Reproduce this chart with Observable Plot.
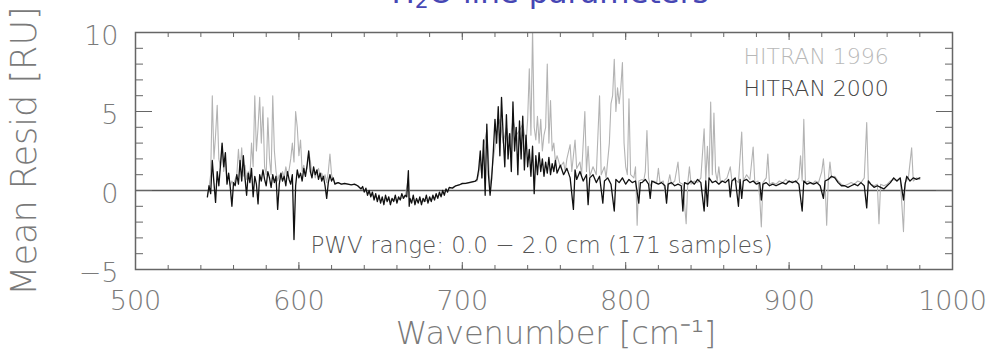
<!DOCTYPE html>
<html>
<head>
<meta charset="utf-8">
<script src="https://cdn.jsdelivr.net/npm/d3@7"></script>
<script src="https://cdn.jsdelivr.net/npm/@observablehq/plot@0.6"></script>
<style>
  html, body { margin: 0; padding: 0; background: #fff; overflow: hidden; }
  #wrap { position: relative; width: 987px; height: 356px; overflow: hidden; }
  #title { position: absolute; left: 0; width: 1100px; text-align: center; top: -23px;
    font: 31px/30px "DejaVu Sans", sans-serif; font-weight: 400; color: #4646b4; white-space: nowrap; }
  #title sub { font-size: 22px; vertical-align: -5px; line-height: 0; }
  svg text { font-family: "DejaVu Sans", sans-serif; font-weight: 200; }
</style>
</head>
<body>
<div id="wrap"><div id="title">H<sub>2</sub>O line parameters</div><div id="chart"></div></div>
<script>
const seriesNames = ["HITRAN 1996", "HITRAN 2000"];
const xTicks = [500, 600, 700, 800, 900, 1000];
const yTicks = [-5, 0, 5, 10];
const xMinorTicks = d3.range(500, 1001, 20);
const yMinorTicks = d3.range(-5, 11, 1);
const xLabel = "Wavenumber [cm\u207B\u00B9]";
const yLabel = "Mean Resid [RU]";
const annotation = "PWV range: 0.0 \u2212 2.0 cm (171 samples)";

// HITRAN 1996 (grey) [wavenumber cm-1, mean residual RU]
const hitran1996 = [
[544,-0.3],[545,0.2],[546,1.0],[547,6.0],[548,2.0],[549,3.5],[550,5.4],[551,2.0],[552,1.5],[553,2.8],[554,1.2],[555,2.0],[556,0.6],[557,1.0],[558,0.3],[559,0.6],[560,0.4],[562,1.0],[563,2.6],[564,1.2],[565,2.7],[566,0.9],[567,1.6],[568,0.7],[569,1.2],[570,0.8],[571,3.0],[572,1.5],[573,6.0],[574,2.5],[575,4.0],[576,5.9],[577,3.0],[578,5.3],[579,1.5],[580,1.0],[581,4.6],[582,2.0],[583,1.0],[584,6.0],[585,2.5],[586,1.2],[587,0.6],[588,1.0],[589,0.7],[590,1.2],[591,0.8],[592,1.5],[593,1.0],[594,1.3],[595,2.0],[596,3.0],[597,1.8],[598,5.0],[599,4.0],[600,2.2],[601,3.2],[602,1.2],[603,1.6],[604,1.0],[605,1.4],[606,2.4],[607,1.9],[608,1.0],[609,1.3],[610,0.8],[611,1.2],[612,1.4],[613,0.9],[614,1.1],[615,0.7],[616,1.0],[617,0.5],[618,1.2],[619,2.3],[620,1.0],[621,0.7],[622,0.5],[624,0.5],[626,0.4],
[630,0.4],[635,0.35],[640,0.0],[645,-0.3],[650,-0.6],[655,-0.6],[660,-0.6],[665,-0.4],[667,0.8],[668,-0.6],[672,-0.6],[676,-0.7],[680,-0.6],[684,-0.4],[688,-0.2],[692,0.1],[696,0.3],[700,0.4],[705,0.5],[709,0.6],
[710,1.0],[711,2.0],[712,0.8],[713,2.8],[715,3.8],[717,0.2],[719,2.0],[721,3.5],[723,4.5],[725,3.0],[727,4.0],[729,3.0],[731,4.5],[733,3.5],[735,3.8],[737,4.2],[739,3.0],[740,4.5],[741,7.7],[742,3.5],[743,10.2],[744,4.0],[745,3.2],[746,4.7],[747,3.0],[748,4.5],[749,2.5],[750,3.5],[751,4.0],[752,8.0],[753,3.0],[754,5.7],[755,2.5],[756,3.0],[757,1.8],[758,2.2],[760,1.5],[762,1.8],[763,1.2],[764,2.0],[766,2.9],[767,1.2],[769,3.2],[770,1.4],[772,1.8],[773,1.0],[775,5.0],[776,1.2],[777,2.8],[778,0.9],[780,1.5],[782,1.0],[784,6.0],[785,1.0],[787,1.5],[788,0.8],[790,3.0],[791,5.5],[792,6.0],[793,8.3],[794,5.0],[795,6.5],[796,5.5],[797,6.5],[798,8.1],[799,3.0],[800,1.5],[801,1.0],[802,5.8],[803,1.0],[805,0.8],[806,1.5],[807,-2.2],[808,0.6],[810,0.7],
[811,0.6],[812,1.2],[813,3.8],[814,0.8],[815,0.3],[817,0.6],[819,0.5],[820,1.4],[821,0.5],[823,0.6],[825,-0.6],[826,0.5],[827,1.0],[828,0.4],[830,0.6],[832,1.8],[833,0.5],[835,0.4],[837,-2.1],[838,0.5],[839,1.5],[840,0.4],[842,0.6],[844,0.5],[846,0.8],[848,3.9],[849,0.6],[850,2.8],[851,0.8],[852,5.6],[853,1.0],[854,4.9],[855,1.2],[856,0.6],[857,1.5],[858,0.5],[860,0.6],[862,0.8],[864,1.5],[865,0.6],[867,0.7],[869,0.5],[871,3.7],[872,0.6],[874,1.0],[876,0.7],[878,2.75],[879,0.5],[881,0.6],[882,-0.4],[883,-2.3],[884,0.5],[886,0.8],[887,2.3],[888,0.4],[890,0.5],[892,0.4],[894,0.6],[896,0.5],[898,0.7],[900,0.5],[902,0.6],[904,0.5],[906,0.8],[907,2.2],[908,0.6],[909,4.5],[910,0.5],[912,0.6],[914,0.4],[916,0.6],[918,0.5],[920,1.2],[921,2.0],[922,0.6],[923,-2.2],[924,0.7],[925,1.8],[926,0.8],[928,0.9],[930,0.6],[932,0.4],[934,0.3],[936,0.4],[938,0.5],[940,0.4],[942,0.6],[944,0.5],[946,0.8],[947.5,4.3],[948.5,0.5],[950,0.4],[952,0.3],[954,0.4],[955,-2.1],[956,0.4],[958,0.3],[960,0.4],[962,0.6],[964,0.7],[966,0.6],[968,0.8],[970,-2.6],[971,0.5],[973,0.8],[975,2.7],[976,0.6],[978,0.8],[980,0.7]
];

// HITRAN 2000 (black) [wavenumber cm-1, mean residual RU]
const hitran2000 = [
[544,-0.4],[545,0.3],[546,-0.2],[547,1.9],[548,0.5],[549,-0.75],[550,1.2],[551,0.3],[552,1.6],[553,3.0],[554,1.5],[555,2.4],[556,0.4],[557,1.1],[558,0.2],[559,-1.0],[560,0.5],[561,0.3],[562,1.0],[563,0.4],[564,1.9],[565,0.6],[566,2.2],[567,0.8],[568,-0.3],[569,1.1],[570,0.5],[571,1.4],[572,-0.4],[573,0.9],[574,0.4],[575,-0.85],[576,1.0],[577,0.6],[578,1.3],[579,0.7],[580,0.3],[581,1.2],[582,0.8],[583,0.2],[584,1.0],[585,0.5],[586,0.9],[587,-1.2],[588,0.4],[589,1.1],[590,0.6],[591,0.9],[592,0.3],[593,1.2],[594,0.7],[595,0.4],[596,1.0],[597,-3.1],[598,0.3],[599,1.3],[600,0.8],[601,1.1],[602,0.6],[603,1.4],[604,0.9],[605,1.6],[606,2.5],[607,1.2],[608,0.8],[609,1.5],[610,1.0],[611,1.3],[612,0.7],[613,1.1],[614,0.6],[615,0.9],[616,0.3],[617,-0.5],[618,0.5],[619,1.0],[620,0.6],[621,0.8],[622,0.4],[624,0.5],[626,0.4],
[628,0.45],[630,0.4],[632,0.35],[634,0.4],[636,0.3],[638,0.1],[639,0.25],[640,-0.1],[641,0.15],[642,-0.3],[643,0.0],[644,-0.4],[645,-0.1],[646,-0.6],[647,-0.2],[648,-0.7],[649,-0.3],[650,-0.8],[651,-0.4],[652,-0.9],[653,-0.3],[654,-0.7],[655,-0.4],[656,-0.9],[657,-0.5],[658,-0.7],[659,-0.3],[660,-0.8],[661,-0.4],[662,-0.6],[663,-0.2],[664,-0.5],[665,-0.3],[666,-0.4],[667,1.25],[667.5,-1.0],[668,-0.5],[669,-0.8],[670,-0.3],[671,-0.9],[672,-0.5],[673,-0.8],[674,-0.4],[675,-0.9],[676,-0.5],[677,-0.7],[678,-0.3],[679,-0.8],[680,-0.4],[681,-0.7],[682,-0.3],[683,-0.6],[684,-0.2],[685,-0.5],[686,-0.1],[687,-0.4],[688,0.0],[689,-0.3],[690,0.1],[691,-0.1],[692,0.2],[694,0.15],[696,0.3],[698,0.35],[700,0.45],[702,0.45],[704,0.5],[706,0.55],[708,0.6],[709,0.7],
[710,1.3],[711,2.5],[712,0.8],[713,3.2],[714,-0.3],[715,4.2],[716,1.0],[717,-0.3],[718,0.8],[719,2.5],[720,4.5],[721,3.0],[722,5.3],[723,2.2],[724,5.9],[725,3.5],[726,1.5],[727,4.8],[728,2.0],[729,3.6],[730,1.2],[731,5.6],[732,2.5],[733,4.0],[734,1.0],[735,4.4],[736,2.0],[737,4.7],[738,1.3],[739,3.5],[740,1.5],[741,2.6],[742,0.9],[743,2.8],[744,-0.2],[745,2.2],[746,1.0],[747,2.4],[748,1.2],[749,2.0],[750,0.9],[751,1.8],[752,1.1],[753,2.1],[754,1.0],[755,1.7],[756,1.2],[757,1.9],[758,1.1],[760,1.6],[762,1.0],[764,1.4],[766,0.8],[768,-1.2],[769,1.3],[770,0.7],[772,1.2],[774,0.6],[776,1.0],[777,-0.9],[778,0.8],[780,1.0],[782,0.5],[784,0.9],[786,-0.8],[787,0.6],[789,0.8],[791,0.4],[793,-1.3],[794,0.7],[796,0.5],[798,0.8],[800,0.4],[802,0.7],[804,0.5],[806,0.6],[808,-0.8],[809,0.5],
[810,0.5],[812,0.7],[814,0.4],[815,-0.5],[816,0.6],[818,0.5],[820,0.4],[822,0.5],[824,0.3],[825,-0.8],[826,0.4],[828,0.5],[830,0.3],[832,0.4],[834,0.3],[835,-1.3],[836,0.5],[838,0.4],[840,0.6],[842,0.4],[844,0.7],[846,0.5],[848,-1.3],[849,0.6],[850,-1.0],[851,0.8],[853,0.5],[855,0.6],[857,0.4],[859,0.6],[861,0.5],[863,0.7],[864,-0.4],[865,0.6],[867,0.8],[869,-1.0],[870,0.7],[871,-0.5],[872,0.6],[874,0.7],[876,0.5],[878,0.6],[880,0.4],[882,0.5],[883,-0.6],[884,0.4],[886,0.5],[888,0.3],[890,0.4],[892,0.3],[894,0.4],[896,0.5],[898,0.4],[900,0.6],[902,0.5],[904,0.6],[906,0.4],[908,-1.3],[909,0.6],[911,0.4],[913,0.5],[915,0.4],[917,0.5],[919,0.3],[921,-0.5],[922,0.6],[924,0.7],[926,0.9],[928,0.8],[930,0.5],[932,0.3],[934,0.3],[936,0.2],[938,0.3],[940,0.4],[942,0.3],[944,0.5],[946,0.3],[947.5,-1.1],[948.5,0.6],[950,0.4],[952,0.2],[954,0.3],[956,0.2],[958,0.1],[960,0.3],[962,0.5],[964,0.8],[966,0.6],[968,0.8],[970,-0.6],[971,0.4],[972,0.9],[974,0.6],[976,0.8],[978,0.7],[980,0.8]
];

const axisColor = "#666";
const labelColor = "#7a7a7a";

const chart = Plot.plot({
  width: 987,
  height: 356,
  marginLeft: 135,
  marginRight: 35,
  marginTop: 32,
  marginBottom: 87,
  x: {domain: [500, 1000]},
  y: {domain: [-5, 10]},
  style: {background: "transparent", overflow: "visible"},
  marks: [
    Plot.ruleY([0], {stroke: "#555", strokeWidth: 1.5}),
    Plot.line(hitran1996, {x: d => d[0], y: d => d[1], stroke: "#b3b3b3", strokeWidth: 1.1, clip: true}),
    Plot.line(hitran2000, {x: d => d[0], y: d => d[1], stroke: "#111", strokeWidth: 1.3, clip: true}),
    // inward ticks on all four sides
    Plot.axisX(xMinorTicks, {anchor: "bottom", tickSize: -4, fill: "none", stroke: axisColor}),
    Plot.axisX(xTicks, {anchor: "bottom", tickSize: -7, fill: "none", stroke: axisColor}),
    Plot.axisX(xMinorTicks, {anchor: "top", tickSize: -4, fill: "none", stroke: axisColor}),
    Plot.axisX(xTicks, {anchor: "top", tickSize: -7, fill: "none", stroke: axisColor}),
    Plot.axisY(yMinorTicks, {anchor: "left", tickSize: -8, fill: "none", stroke: axisColor}),
    Plot.axisY(yTicks, {anchor: "left", tickSize: -17, fill: "none", stroke: axisColor}),
    Plot.axisY(yMinorTicks, {anchor: "right", tickSize: -8, fill: "none", stroke: axisColor}),
    Plot.axisY(yTicks, {anchor: "right", tickSize: -17, fill: "none", stroke: axisColor}),
    // tick labels
    Plot.axisX(xTicks, {anchor: "bottom", tickSize: 0, tickPadding: 21, fontSize: 27, fill: labelColor, label: null, tickFormat: d => String(d)}),
    Plot.axisY(yTicks, {anchor: "left", tickSize: 0, tickPadding: 17, dy: 4, fontSize: 27, fill: labelColor, label: null, tickFormat: d => d < 0 ? "\u2212" + Math.abs(d) : String(d)}),
    // y axis title (axis label only)
    Plot.axisY([], {anchor: "left", tickSize: 0, fontSize: 35, fill: labelColor, label: yLabel, labelAnchor: "center", labelOffset: 124, labelArrow: "none"}),
    Plot.frame({stroke: axisColor, strokeWidth: 1.5}),
    // x axis title
    Plot.text([xLabel], {frameAnchor: "bottom", dy: 64, dx: 12, fontSize: 32, fill: labelColor, lineAnchor: "middle"}),
    // legend
    Plot.text([seriesNames[0]], {frameAnchor: "top-left", dx: 608, dy: 24, fontSize: 22, fill: "#b8b8b8", textAnchor: "start", lineAnchor: "middle"}),
    Plot.text([seriesNames[1]], {frameAnchor: "top-left", dx: 608, dy: 56, fontSize: 22, fill: "#444", textAnchor: "start", lineAnchor: "middle"}),
    // annotation
    Plot.text([annotation], {frameAnchor: "bottom-left", dx: 175, dy: -24, fontSize: 23, fill: "#555", textAnchor: "start", lineAnchor: "middle"})
  ]
});
document.getElementById("chart").appendChild(chart);
</script>
</body>
</html>
